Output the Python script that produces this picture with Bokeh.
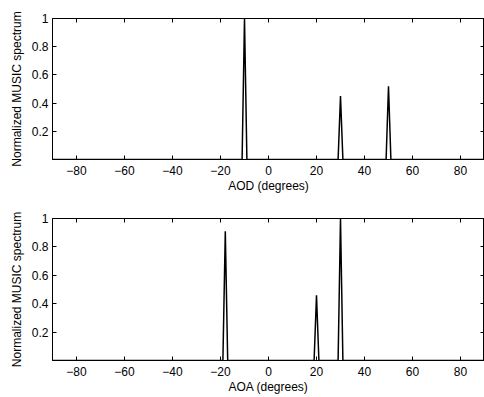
from bokeh.plotting import figure
from bokeh.models import LinearAxis, FixedTicker, Range1d
from bokeh.layouts import column
from bokeh.embed import file_html
from bokeh.resources import INLINE

# ---- data ----
aod_deg = [-90, -11, -10, -9, 29, 30, 31, 49, 50, 51, 90]
aod_spec = [0, 0, 1.0, 0, 0, 0.45, 0, 0, 0.52, 0, 0]
aoa_deg = [-90, -19, -18, -17, 19, 20, 21, 29, 30, 31, 90]
aoa_spec = [0, 0, 0.91, 0, 0, 0.46, 0, 0, 1.0, 0, 0]

x_ticks = [-80, -60, -40, -20, 0, 20, 40, 60, 80]
x_tick_labels = {t: (("\u2212" + str(-t)) if t < 0 else str(t)) for t in x_ticks}
y_ticks = [0.2, 0.4, 0.6, 0.8, 1.0]
y_tick_labels = {0.2: "0.2", 0.4: "0.4", 0.6: "0.6", 0.8: "0.8", 1.0: "1"}

FONT = "Liberation Sans"
FS = "12px"


def style_axis(ax):
    ax.axis_line_color = "black"
    ax.axis_line_width = 1
    ax.major_tick_in = 4
    ax.major_tick_out = 0
    ax.minor_tick_in = 0
    ax.minor_tick_out = 0
    ax.major_tick_line_color = "black"
    ax.major_label_text_font = FONT
    ax.major_label_text_font_size = FS
    ax.major_label_text_color = "black"
    ax.axis_label_text_font = FONT
    ax.axis_label_text_font_size = FS
    ax.axis_label_text_font_style = "normal"
    ax.axis_label_text_color = "black"


def make_fig(xs, ys, xlabel, height, top, bottom):
    p = figure(width=484, height=height, output_backend="svg", toolbar_location=None,
               x_range=Range1d(-90, 90), y_range=Range1d(0, 1),
               min_border_left=52, min_border_right=0,
               min_border_top=top, min_border_bottom=bottom)
    p.grid.visible = False
    p.outline_line_color = "black"
    p.outline_line_width = 1
    p.background_fill_color = "white"
    p.border_fill_color = "white"

    p.xaxis.ticker = FixedTicker(ticks=x_ticks)
    p.xaxis.major_label_overrides = x_tick_labels
    p.yaxis.ticker = FixedTicker(ticks=y_ticks)
    p.yaxis.major_label_overrides = y_tick_labels
    p.xaxis.axis_label = xlabel
    p.yaxis.axis_label = "Normalized MUSIC spectrum"
    for ax in p.xaxis + p.yaxis:
        style_axis(ax)
    p.xaxis.major_label_standoff = 6
    p.xaxis.axis_label_standoff = 1
    p.yaxis.major_label_standoff = 4
    p.yaxis.axis_label_standoff = 5

    top_ax = LinearAxis(ticker=FixedTicker(ticks=x_ticks))
    right_ax = LinearAxis(ticker=FixedTicker(ticks=y_ticks))
    for ax in (top_ax, right_ax):
        style_axis(ax)
        ax.major_label_text_color = None
        ax.major_label_standoff = 0
    p.add_layout(top_ax, "above")
    p.add_layout(right_ax, "right")

    p.line(xs, ys, line_color="black", line_width=1.5)
    return p


p1 = make_fig(aod_deg, aod_spec, "AOD (degrees)", 200, 18, 41)
p2 = make_fig(aoa_deg, aoa_spec, "AOA (degrees)", 197, 18, 37)

layout = column(p1, p2, spacing=0)
open("out.html", "w").write(file_html(layout, INLINE))
